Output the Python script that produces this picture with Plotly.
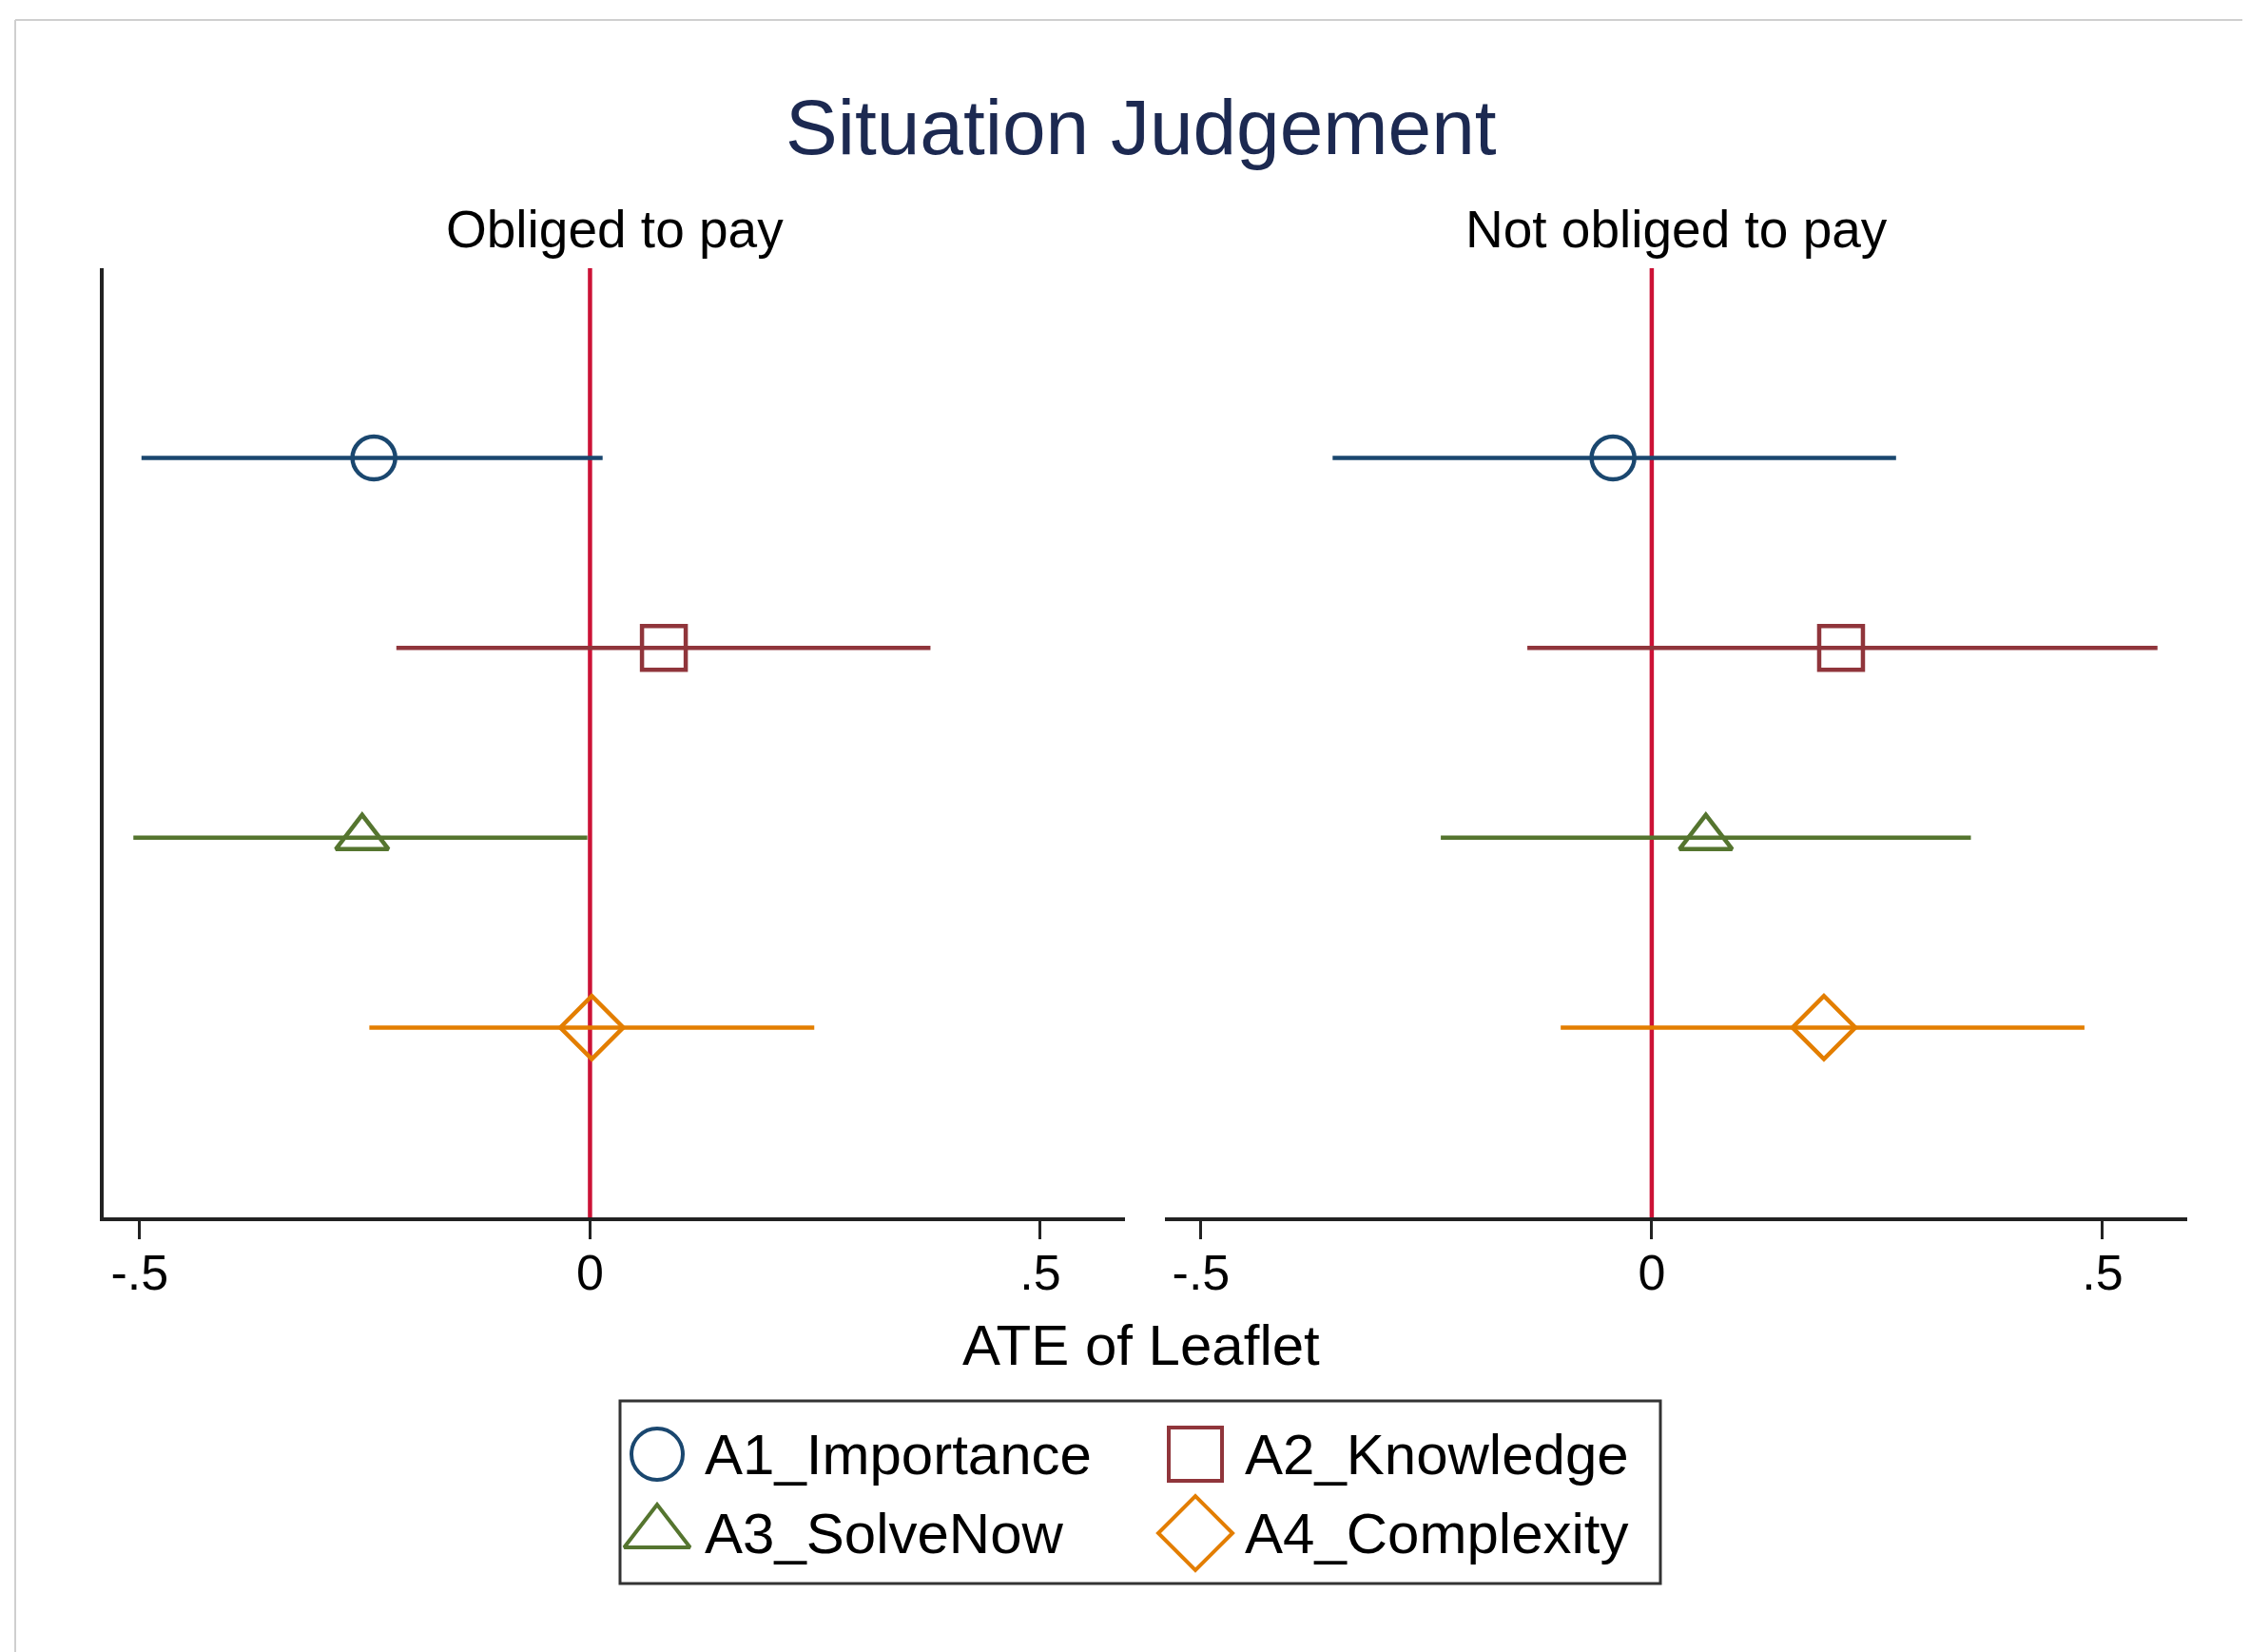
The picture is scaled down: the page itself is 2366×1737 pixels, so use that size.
import plotly.graph_objects as go

# ---------------- data ----------------
series = ["A1_Importance", "A2_Knowledge", "A3_SolveNow", "A4_Complexity"]
panels = ["Obliged to pay", "Not obliged to pay"]

obliged_est = [-0.240, 0.082, -0.253, 0.002]
obliged_lo = [-0.498, -0.215, -0.507, -0.245]
obliged_hi = [0.014, 0.378, -0.003, 0.249]

notobliged_est = [-0.043, 0.210, 0.060, 0.191]
notobliged_lo = [-0.354, -0.138, -0.234, -0.101]
notobliged_hi = [0.271, 0.561, 0.354, 0.480]

tick_vals = [-0.5, 0, 0.5]
tick_text = ["-.5", "0", ".5"]

title_text = "Situation Judgement"
xaxis_title = "ATE of Leaflet"

# ---------------- styles ----------------
colors = ["#1a476f", "#90353b", "#55752f", "#e37e00"]
symbols = ["circle-open", "square-open", "triangle-up-open", "diamond-open"]
msize = [45, 46, 48, 51]
legend_msize = [54, 56, 60, 60]
FONT = "Liberation Sans, Arial, sans-serif"
W, H = 2366, 1737
OFF = 8  # page body margin compensation
AX = "#222222"
REFLINE = "#cc1236"


def px_x(p):
    return (p - OFF) / W


def px_y(p):
    return 1 - (p - OFF) / H


fig = go.Figure()

panel_data = [
    (obliged_est, obliged_lo, obliged_hi, "x", "y"),
    (notobliged_est, notobliged_lo, notobliged_hi, "x2", "y2"),
]

for est, lo, hi, xa, ya in panel_data:
    for i, name in enumerate(series):
        fig.add_trace(go.Scatter(
            x=[est[i]], y=[name], mode="markers",
            xaxis=xa, yaxis=ya, showlegend=False, name=name,
            error_x=dict(type="data", symmetric=False,
                         array=[hi[i] - est[i]], arrayminus=[est[i] - lo[i]],
                         color=colors[i], thickness=4.5, width=0),
            marker=dict(symbol=symbols[i], size=msize[i], color=colors[i],
                        line=dict(color=colors[i], width=4.5)),
            cliponaxis=False,
        ))

# ---------------- custom legend (large symbols) ----------------
box_l, box_r, box_t, box_b = 652, 1746, 1473, 1665
box_w, box_h = box_r - box_l, box_b - box_t
col_marker = [39, 605]
col_text = [87, 655]
row_y = [56, 139]
for i, name in enumerate(series):
    c, r = i % 2, i // 2
    fig.add_trace(go.Scatter(
        x=[col_marker[c]], y=[row_y[r]], mode="markers",
        xaxis="x3", yaxis="y3", showlegend=False, hoverinfo="skip",
        marker=dict(symbol=symbols[i], size=legend_msize[i], color=colors[i],
                    line=dict(color=colors[i], width=4)),
        cliponaxis=False,
    ))
    fig.add_annotation(x=col_text[c], y=row_y[r], xref="x3", yref="y3",
                       text=name, showarrow=False, xanchor="left", yanchor="middle",
                       font=dict(family=FONT, size=60, color="black"))

xaxis_common = dict(range=[-0.54, 0.594], tickvals=tick_vals, ticktext=tick_text,
                    ticks="outside", ticklen=19, tickwidth=2.5, tickcolor=AX,
                    ticklabelstandoff=-9,
                    showline=True, linecolor=AX, linewidth=3.5,
                    showgrid=False, zeroline=False,
                    tickfont=dict(family=FONT, size=52, color="black"))
yaxis_common = dict(type="category", categoryorder="array", categoryarray=series,
                    range=[4, -1], showticklabels=False, ticks="",
                    showgrid=False, zeroline=False,
                    domain=[px_y(1280), px_y(282)])

fig.update_layout(
    width=W, height=H,
    margin=dict(l=0, r=0, t=0, b=0),
    paper_bgcolor="white", plot_bgcolor="rgba(0,0,0,0)",
    showlegend=False,
    xaxis=dict(domain=[px_x(109), px_x(1183)], anchor="y", **xaxis_common),
    yaxis=dict(anchor="x", showline=True, linecolor=AX, linewidth=3.5, **yaxis_common),
    xaxis2=dict(domain=[px_x(1225), px_x(2300)], anchor="y2", **xaxis_common),
    yaxis2=dict(anchor="x2", showline=False, **yaxis_common),
    xaxis3=dict(domain=[px_x(box_l), px_x(box_r)], range=[0, box_w], anchor="y3",
                visible=False, fixedrange=True),
    yaxis3=dict(domain=[px_y(box_b), px_y(box_t)], range=[box_h, 0], anchor="x3",
                visible=False, fixedrange=True),
)

# reference lines at zero
for xa, ya in [("x", "y"), ("x2", "y2")]:
    fig.add_shape(type="line", xref=xa, yref=f"{ya} domain",
                  x0=0, x1=0, y0=0, y1=1, line=dict(color=REFLINE, width=4.5), layer="below")

# legend box
fig.add_shape(type="rect", xref="paper", yref="paper",
              x0=px_x(box_l), x1=px_x(box_r), y0=px_y(box_b), y1=px_y(box_t),
              line=dict(color="#333333", width=3), fillcolor="rgba(0,0,0,0)")

# outer light frame (left and top)
fig.add_shape(type="line", xref="paper", yref="paper", x0=px_x(16), x1=px_x(16),
              y0=0, y1=px_y(21), line=dict(color="#cfcfcf", width=2))
fig.add_shape(type="line", xref="paper", yref="paper", x0=px_x(16), x1=1,
              y0=px_y(21), y1=px_y(21), line=dict(color="#cfcfcf", width=2))

# titles
fig.add_annotation(x=px_x(1200), y=px_y(133), xref="paper", yref="paper",
                   text=title_text, showarrow=False, xanchor="center", yanchor="middle",
                   font=dict(family=FONT, size=82, color="#1c2951"))
panel_centers = [(109 + 1183) / 2, (1225 + 2300) / 2]
for label, cx in zip(panels, panel_centers):
    fig.add_annotation(x=px_x(cx), y=px_y(241), xref="paper", yref="paper",
                       text=label, showarrow=False, xanchor="center", yanchor="middle",
                       font=dict(family=FONT, size=55, color="black"))
fig.add_annotation(x=px_x(1200), y=px_y(1414), xref="paper", yref="paper",
                   text=xaxis_title, showarrow=False, xanchor="center", yanchor="middle",
                   font=dict(family=FONT, size=60, color="black"))

fig.write_html("out.html")
